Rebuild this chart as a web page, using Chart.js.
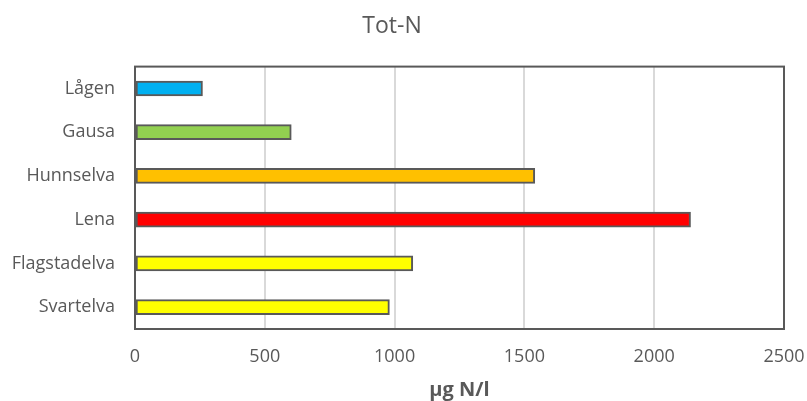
<!DOCTYPE html>
<html>
<head>
<meta charset="utf-8">
<script src="https://cdn.jsdelivr.net/npm/chart.js@4"></script>
<style>
  html, body { margin: 0; padding: 0; background: #fff; }
  #wrap { width: 807px; height: 401px; }
</style>
</head>
<body>
<div id="wrap"><canvas id="chart" width="807" height="401"></canvas></div>
<script>
const rivers = ['Lågen', 'Gausa', 'Hunnselva', 'Lena', 'Flagstadelva', 'Svartelva'];
const totN = [260, 602, 1540, 2140, 1070, 980];
const barColors = ['#00b0f0', '#92d050', '#ffc000', '#ff0000', '#ffff00', '#ffff00'];
const xTicks = [0, 500, 1000, 1500, 2000, 2500];

const textColor = '#595959';
const fontFamily = '"Open Sans", "Liberation Sans", sans-serif';

// frame around the plot area
const frame = {
  id: 'frame',
  afterDraw(chart) {
    const { ctx, chartArea: a } = chart;
    ctx.save();
    ctx.strokeStyle = '#595959';
    ctx.lineWidth = 2;
    ctx.strokeRect(a.left, a.top, a.right - a.left, a.bottom - a.top);
    ctx.restore();
  }
};

new Chart(document.getElementById('chart').getContext('2d'), {
  type: 'bar',
  data: {
    labels: rivers,
    datasets: [{
      data: totN,
      backgroundColor: barColors,
      borderColor: '#595959',
      borderWidth: 2,
      borderSkipped: false,
      barThickness: 15
    }]
  },
  options: {
    indexAxis: 'y',
    responsive: false,
    animation: false,
    layout: { padding: { top: 8, right: 23, bottom: 1, left: 0 } },
    plugins: {
      legend: { display: false },
      tooltip: { enabled: false },
      title: {
        display: true,
        text: 'Tot-N',
        color: textColor,
        font: { family: fontFamily, size: 23, weight: 'normal' },
        padding: { top: 5, bottom: 26 }
      }
    },
    scales: {
      x: {
        min: 0,
        max: 2500,
        afterBuildTicks(scale) { scale.ticks = xTicks.map(v => ({ value: v })); },
        afterFit(scale) {
          scale.paddingLeft = 0;
          scale.paddingRight = 0;
          scale.height = 71;
        },
        grid: { color: '#d9d9d9', lineWidth: 2, drawTicks: false },
        border: { display: false },
        ticks: {
          color: textColor,
          padding: 17,
          font: { family: fontFamily, size: 18 },
          callback: v => String(v)
        },
        title: {
          display: true,
          text: 'µg N/l',
          color: textColor,
          font: { family: fontFamily, size: 20, weight: 'bold', lineHeight: 1 },
          padding: { top: 9, bottom: 0 }
        }
      },
      y: {
        grid: { display: false, drawTicks: false },
        border: { display: false },
        afterFit(scale) { scale.width = 135; },
        ticks: { color: textColor, padding: 20, font: { family: fontFamily, size: 18 } }
      }
    }
  },
  plugins: [frame]
});
</script>
</body>
</html>
